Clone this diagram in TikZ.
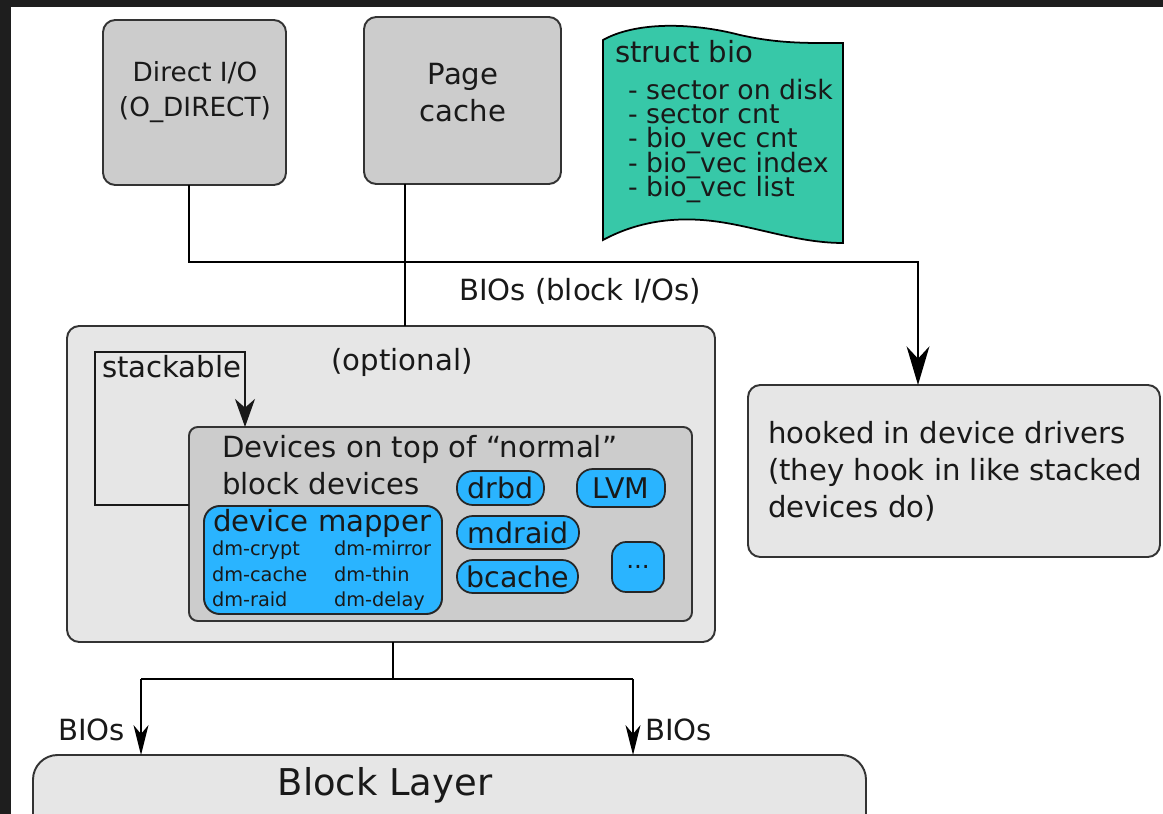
\documentclass[tikz,border=0pt]{standalone}
\usepackage{fontspec}
\setmainfont{DejaVu Sans}
\usetikzlibrary{arrows.meta,fit}
\definecolor{darkbg}{RGB}{30,30,30}
\definecolor{boxgray}{RGB}{204,204,204}
\definecolor{boxlight}{RGB}{230,230,230}
\definecolor{edgegray}{RGB}{51,51,51}
\definecolor{biogreen}{RGB}{55,200,168}
\definecolor{devblue}{RGB}{42,180,255}
\begin{document}
\begin{tikzpicture}[x=0.02cm,y=-0.02cm,
  box/.style={draw=edgegray,line width=1.1pt,rounded corners=7pt,inner sep=0pt,outer sep=0pt},
  pill/.style={draw=black!85,fill=devblue,line width=1pt,rounded corners=9pt,inner sep=0pt,outer sep=0pt,text=black!90,font=\fontsize{16.2}{19}\selectfont},
  txt/.style={inner sep=0pt,outer sep=0pt,text=black!90},
  big/.style={txt,font=\fontsize{16.6}{20}\selectfont},
  mid/.style={txt,font=\fontsize{15.2}{18}\selectfont},
  small/.style={txt,font=\fontsize{11}{13}\selectfont},
  conn/.style={line width=1.1pt,black},
  tipA/.style={-{Stealth[length=22pt,width=13pt,inset=7pt]}},
  tipB/.style={-{Stealth[length=16pt,width=11.4pt,inset=5pt]}},
  tipC/.style={-{Stealth[length=17pt,width=8.5pt,inset=5pt]}},
]
\useasboundingbox (0,0) rectangle (1163,814);
\clip (0,0) rectangle (1163,814);
\fill[darkbg] (0,0) rectangle (1163,814);
\fill[white] (11,7) rectangle (1163,814);

% Direct I/O
\node[box,fill=boxgray,fit={(103,20)(286,185)}] (dio) {};
\node[txt,anchor=base,font=\fontsize{15}{18}\selectfont] (dio1) at (195,82) {Direct I/O};
\node[txt,anchor=base,font=\fontsize{15}{18}\selectfont] (dio2) at (195,117) {(O\_DIRECT)};

% Page cache
\node[box,fill=boxgray,fit={(364,17)(561,184)}] (pc) {};
\node[big,anchor=base] (pc1) at (463,85) {Page};
\node[big,anchor=base] (pc2) at (463,122) {cache};

% struct bio
\filldraw[fill=biogreen,draw=black,line width=1pt]
  (603,40) .. controls (635,22) and (690,22) .. (740,35)
  .. controls (780,44) and (810,43) .. (843,43) -- (843,243)
  .. controls (800,243) and (760,228) .. (720,222)
  .. controls (680,216) and (640,220) .. (603,240) -- cycle;
\node[big,anchor=base west] (bio0) at (615,63) {struct bio};
\node[mid,anchor=base west] (bio1) at (628,100) {- sector on disk};
\node[mid,anchor=base west] (bio2) at (628,124) {- sector cnt};
\node[mid,anchor=base west] (bio3) at (628,148) {- bio\_vec cnt};
\node[mid,anchor=base west] (bio4) at (628,173) {- bio\_vec index};
\node[mid,anchor=base west] (bio5) at (628,197) {- bio\_vec list};

% optional container
\node[box,fill=boxlight,fit={(67,326)(715,642)}] (opt) {};
\node[big,anchor=base] (optl) at (402,370) {(optional)};
\node[big,anchor=base west] (stk) at (102,377) {stackable};

% inner container
\node[box,fill=boxgray,fit={(189,427)(692,621)},rounded corners=5pt] (inner) {};
\node[big,anchor=base west] (in1) at (222,457) {Devices on top of “normal”};
\node[big,anchor=base west] (in2) at (222,494) {block devices};

% device mapper
\node[box,fill=devblue,draw=black!85,fit={(204,506)(442,614)},rounded corners=9pt] (dm) {};
\node[big,anchor=base west] (dmt) at (213,531) {device mapper};
\node[small,anchor=base west] (dm1) at (212,555) {dm-crypt};
\node[small,anchor=base west] (dm2) at (334,555) {dm-mirror};
\node[small,anchor=base west] (dm3) at (212,581) {dm-cache};
\node[small,anchor=base west] (dm4) at (334,581) {dm-thin};
\node[small,anchor=base west] (dm5) at (212,606) {dm-raid};
\node[small,anchor=base west] (dm6) at (334,606) {dm-delay};

% pills
\node[pill,minimum width=1.74cm,minimum height=0.68cm] (drbd) at (500.5,488) {drbd};
\node[pill,minimum width=1.76cm,minimum height=0.76cm] (lvm) at (621,488) {LVM};
\node[pill,minimum width=2.44cm,minimum height=0.66cm] (mdraid) at (518,532.5) {mdraid};
\node[pill,minimum width=2.42cm,minimum height=0.66cm] (bcache) at (517.5,576.5) {bcache};
\node[pill,minimum width=1.04cm,minimum height=1.0cm,rounded corners=8pt,font=\fontsize{14}{16}\selectfont] (dots) at (638,567) {...};

% hooked in device drivers
\node[box,fill=boxlight,fit={(748,385)(1160,557)}] (hook) {};
\node[big,anchor=base west] (hk1) at (768,443) {hooked in device drivers};
\node[big,anchor=base west] (hk2) at (768,480) {(they hook in like stacked};
\node[big,anchor=base west] (hk3) at (768,517) {devices do)};

% block layer
\node[box,fill=boxlight,fit={(33,755)(866,880)},rounded corners=14pt] (blk) {};
\node[txt,anchor=base,font=\fontsize{21}{25}\selectfont] (blkl) at (385,795) {Block Layer};

% connectors top
\coordinate (j1) at (189,262);
\coordinate (j2) at (918,262);
\coordinate (pcx) at (405,262);
\draw[conn,tipA] (dio.south -| j1) -- (j1) -- (j2) -- (hook.north -| j2);
\draw[conn] (pc.south -| pcx) -- (opt.north -| pcx);
\node[big,anchor=base west] (biolbl) at (459,300) {BIOs (block I/Os)};

% stackable loop
\coordinate (s1) at (95,505);
\coordinate (s2) at (95,352);
\coordinate (s3) at (245,352);
\draw[line width=1pt,black!90,tipB] (inner.west |- s1) -- (s1) -- (s2) -- (s3) -- (inner.north -| s3);

% connectors bottom
\coordinate (b0) at (393,679);
\coordinate (bl) at (141,679);
\coordinate (br) at (633,679);
\draw[conn] (opt.south -| b0) -- (b0);
\draw[conn] (bl) -- (br);
\draw[conn,tipC] (bl) -- (blk.north -| bl);
\draw[conn,tipC] (br) -- (blk.north -| br);
\node[big,anchor=base east] (bios1) at (125,740) {BIOs};
\node[big,anchor=base west] (bios2) at (645,740) {BIOs};
\end{tikzpicture}
\end{document}
